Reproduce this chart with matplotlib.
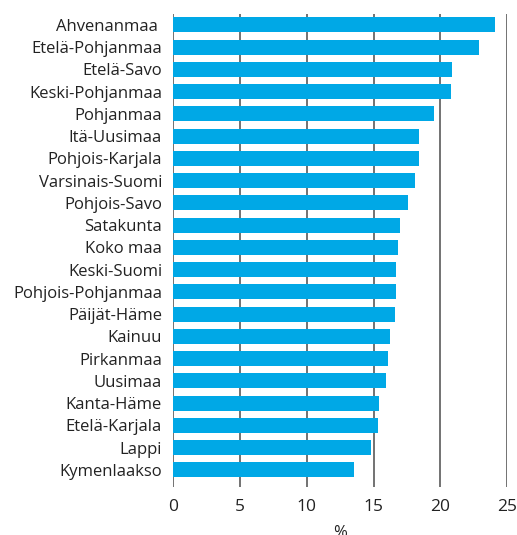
import matplotlib.pyplot as plt

regions = [
    "Ahvenanmaa ", "Etelä-Pohjanmaa", "Etelä-Savo", "Keski-Pohjanmaa",
    "Pohjanmaa", "Itä-Uusimaa", "Pohjois-Karjala", "Varsinais-Suomi",
    "Pohjois-Savo", "Satakunta", "Koko maa", "Keski-Suomi",
    "Pohjois-Pohjanmaa", "Päijät-Häme", "Kainuu", "Pirkanmaa", "Uusimaa",
    "Kanta-Häme", "Etelä-Karjala", "Lappi", "Kymenlaakso",
]
values = [
    24.1, 22.9, 20.9, 20.8, 19.5, 18.4, 18.4, 18.1, 17.6, 17.0, 16.8, 16.7,
    16.7, 16.6, 16.2, 16.1, 15.9, 15.4, 15.3, 14.8, 13.5,
]
xticks = [0, 5, 10, 15, 20, 25]

plt.rcParams["font.family"] = ["Open Sans", "DejaVu Sans"]

fig = plt.figure(figsize=(5.17, 5.35), dpi=100)
ax = fig.add_axes([0.335, 0.09, 0.646, 0.884])

pos = list(range(len(regions)))
ax.barh(pos, values, height=0.67, color="#00a8e6", zorder=2)

ax.set_xlim(0, 25)
ax.set_ylim(20.76, -0.49)
ax.set_xticks(xticks)
ax.set_yticks(pos)
ax.set_yticklabels(regions, fontsize=12, color="#222222")
ax.tick_params(axis="y", length=0, pad=8)
ax.tick_params(axis="x", length=0, pad=9, labelsize=12.5, labelcolor="#222222")

for spine in ax.spines.values():
    spine.set_visible(False)
ax.grid(axis="x", color="#5a5a5a", linewidth=1.2, zorder=0)

ax.set_xlabel("%", fontsize=12, color="#222222", labelpad=7)

fig.savefig("out.png", dpi=100)
